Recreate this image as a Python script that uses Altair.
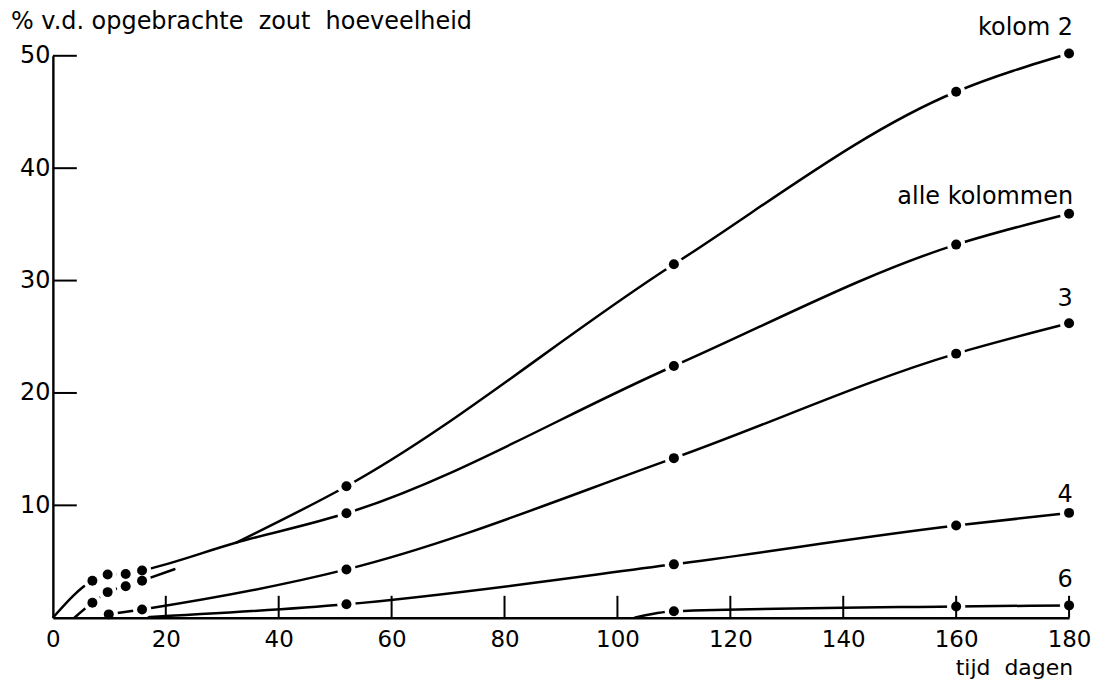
import altair as alt
import pandas as pd

# ---- values ---------------------------------------------------------------
EARLY_DAYS = [7.0, 9.7, 12.9, 15.8]
LATE_DAYS = [52, 110, 160, 180]

K2_EARLY = [1.33, 2.28, 2.8, 3.3]
K2_LATE = [11.7, 31.45, 46.8, 50.2]
ALLE_EARLY = [3.3, 3.85, 3.9, 4.2]
ALLE_LATE = [9.3, 22.4, 33.2, 35.95]
K3_DAYS = [9.9, 15.8, 52, 110, 160, 180]
K3_VALUES = [0.3, 0.74, 4.3, 14.2, 23.5, 26.2]
K4_DAYS = [52, 110, 160, 180]
K4_VALUES = [1.2, 4.75, 8.2, 9.33]
K6_DAYS = [110, 160, 180]
K6_VALUES = [0.58, 1.0, 1.1]

# where the drawn curves start, merge and branch
K2_CURVE_START = [3.8, 0.0]
K2_CURVE_MERGE = [21.7, 4.35]
JUNCTION = [32.4, 6.67]
ALLE_CURVE_START = [0.0, 0.0]
K4_CURVE_START = [15.0, 0.0]
K6_CURVE_START = [103.0, 0.0]

X_TICKS = [0, 20, 40, 60, 80, 100, 120, 140, 160, 180]
Y_TICKS = [10, 20, 30, 40, 50]

LABELS = ["kolom 2", "alle kolommen", "3", "4", "6"]
Y_TITLE = "%\u00a0v.d.\u00a0opgebrachte\u00a0\u00a0zout\u00a0\u00a0hoeveelheid"
X_TITLE = "tijd\u00a0\u00a0dagen"

# ---- tables ----------------------------------------------------------------
line_rows = []


def add_curve(seg, pts):
    for d, v in pts:
        line_rows.append({"seg": seg, "day": d, "value": v})


add_curve("k2a", [K2_CURVE_START] + list(zip(EARLY_DAYS, K2_EARLY)) + [K2_CURVE_MERGE])
add_curve("k2b", [JUNCTION] + list(zip(LATE_DAYS, K2_LATE)))
add_curve("alle", [ALLE_CURVE_START] + list(zip(EARLY_DAYS, ALLE_EARLY)) + [JUNCTION]
          + list(zip(LATE_DAYS, ALLE_LATE)))
add_curve("k3", list(zip(K3_DAYS, K3_VALUES)))
add_curve("k4", [K4_CURVE_START] + list(zip(K4_DAYS, K4_VALUES)))
add_curve("k6", [K6_CURVE_START] + list(zip(K6_DAYS, K6_VALUES)))
lines_df = pd.DataFrame(line_rows)

dot_rows = []
for days, vals in [
    (EARLY_DAYS + LATE_DAYS, K2_EARLY + K2_LATE),
    (EARLY_DAYS + LATE_DAYS, ALLE_EARLY + ALLE_LATE),
    (K3_DAYS, K3_VALUES),
    (K4_DAYS, K4_VALUES),
    (K6_DAYS, K6_VALUES),
]:
    for d, v in zip(days, vals):
        dot_rows.append({"day": d, "value": v})
dots_df = pd.DataFrame(dot_rows)

label_df = pd.DataFrame({
    "label": LABELS,
    "day": [180, 180, 180, 180, 180],
    "value": [K2_LATE[-1], ALLE_LATE[-1], K3_VALUES[-1], K4_VALUES[-1], K6_VALUES[-1]],
    "dx": [4, 4, -4, -4, -4],
    "dy": [-19, -10, -17, -11, -18],
    "align": ["right", "right", "center", "center", "center"],
})

xtick_df = pd.DataFrame({"day": X_TICKS[1:]})
ytick_df = pd.DataFrame({"value": Y_TICKS})

W, H = 1019, 563.5
FONT = "DejaVu Sans"
FS = 24

xenc = alt.X("day:Q", scale=alt.Scale(domain=[0, 180], nice=False, zero=True),
             axis=alt.Axis(values=X_TICKS, title=None, ticks=False, tickSize=0,
                           labelPadding=11, labelFontSize=23, labelFont=FONT,
                           labelColor="black", domainColor="black", domainWidth=2.4,
                           grid=False, zindex=1, labelFlush=False))
yenc = alt.Y("value:Q", scale=alt.Scale(domain=[0, 50], nice=False, zero=True),
             axis=alt.Axis(values=Y_TICKS, title=None, ticks=False, tickSize=0,
                           labelPadding=3, labelFontSize=FS, labelFont=FONT,
                           labelColor="black", domainColor="black", domainWidth=2.4,
                           grid=False, zindex=1, labelFlush=False))

lines = alt.Chart(lines_df).mark_line(
    interpolate="monotone", color="black", strokeWidth=2.5, strokeCap="butt"
).encode(x=xenc, y=yenc, detail="seg:N", order="day:Q")

halos = alt.Chart(dots_df).mark_circle(
    color="white", size=340, opacity=1
).encode(x=xenc, y=yenc)

xticks = alt.Chart(xtick_df).mark_rule(color="black", strokeWidth=2).encode(
    x=xenc, y=alt.value(H), y2=alt.value(H - 22))

yticks = alt.Chart(ytick_df).mark_rule(color="black", strokeWidth=2).encode(
    y=yenc, x=alt.value(0), x2=alt.value(24))

dots = alt.Chart(dots_df).mark_circle(
    color="black", size=100, opacity=1
).encode(x=xenc, y=yenc)

label_layers = []
for i, row in label_df.iterrows():
    label_layers.append(
        alt.Chart(label_df.iloc[[i]]).mark_text(
            font=FONT, fontSize=FS, color="black", align=row["align"],
            baseline="alphabetic", dx=int(row["dx"]), dy=int(row["dy"])
        ).encode(x=xenc, y=yenc, text="label:N")
    )

ytitle = alt.Chart(pd.DataFrame({"t": [Y_TITLE]})).mark_text(
    font=FONT, fontSize=FS, color="black", align="left", baseline="middle"
).encode(x=alt.value(-42), y=alt.value(-34), text="t:N")

xtitle = alt.Chart(pd.DataFrame({"t": [X_TITLE]})).mark_text(
    font=FONT, fontSize=22, color="black", align="right", baseline="alphabetic"
).encode(x=alt.value(W + 4), y=alt.value(H + 57), text="t:N")

chart = alt.layer(lines, halos, xticks, yticks, dots, *label_layers, ytitle, xtitle).properties(
    width=W, height=H,
    autosize=alt.AutoSizeParams(type="none"),
    padding={"left": 45, "top": 47, "right": 25, "bottom": 61},
    background="white",
).configure_view(strokeWidth=0)

chart.save("out.html", embed_options={"renderer": "svg", "actions": False})
